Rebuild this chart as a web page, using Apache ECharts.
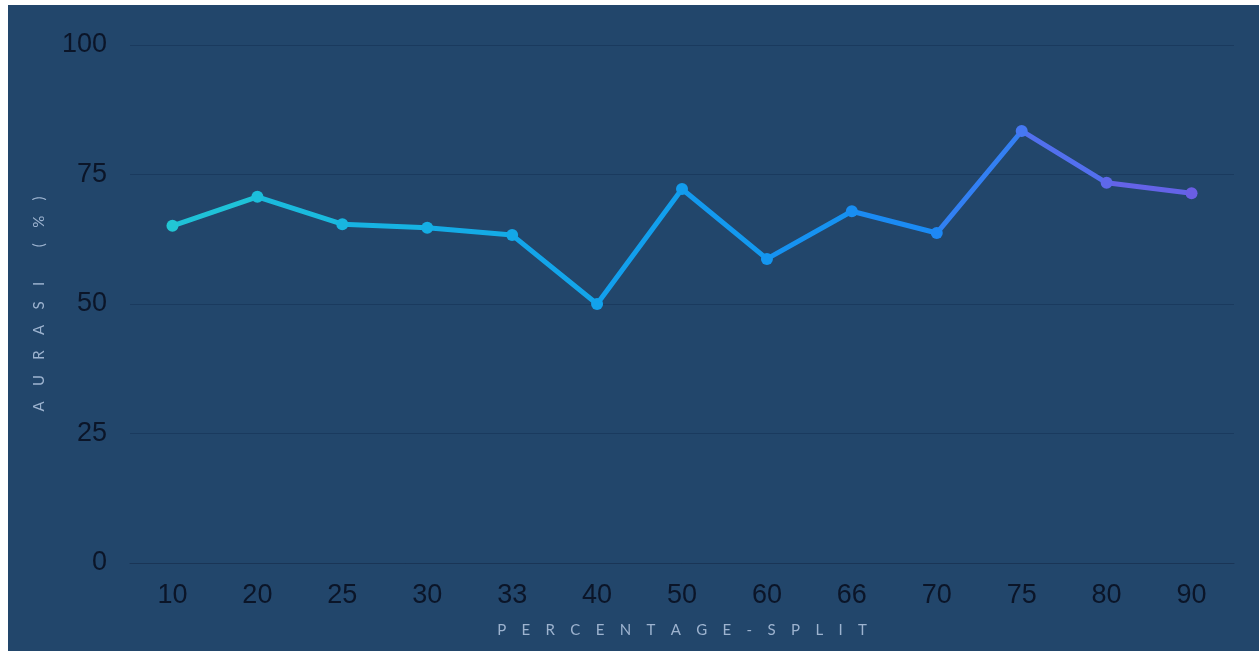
<!DOCTYPE html>
<html>
<head>
<meta charset="utf-8">
<script src="https://cdn.jsdelivr.net/npm/echarts@6/dist/echarts.min.js"></script>
<style>
	html, body { margin: 0; padding: 0; background: #ffffff; }
	#chart { position: absolute; left: 8px; top: 5px; width: 1251px; height: 646px; background: #22466b; }
</style>
</head>
<body>
<div id="chart"></div>
<script>
	// percentage split categories and accuracy values
	const splits = ['10', '20', '25', '30', '33', '40', '50', '60', '66', '70', '75', '80', '90'];
	const accuracy = [65.1, 70.7, 65.4, 64.7, 63.3, 50.0, 72.2, 58.7, 67.9, 63.7, 83.4, 73.4, 71.4];
	const yTicks = [0, 25, 50, 75, 100];

	// wide letter spacing for the axis titles
	const spread = (s, gap) => s.split('').join(gap);

	const chart = echarts.init(document.getElementById('chart'));
	chart.setOption({
		animation: false,
		grid: {
			left: 122,
			top: 40,
			width: 1104,
			height: 518
		},
		visualMap: {
			show: false,
			type: 'continuous',
			dimension: 0,
			min: 0,
			max: splits.length - 1,
			inRange: {
				color: ['#22c6d4', '#1cbedb', '#18b6e0', '#15aee4', '#13a8e8', '#12a2ec', '#129cee',
					'#1496f0', '#188ef2', '#1e88f4', '#4678f2', '#5e68ea', '#6a5ee4']
			}
		},
		xAxis: {
			type: 'category',
			data: splits,
			name: spread('PERCENTAGE-SPLIT', '    '),
			nameLocation: 'middle',
			nameGap: 60,
			nameTextStyle: {
				color: '#9db3cf',
				fontFamily: 'Lato',
				fontSize: 15
			},
			axisTick: { show: false },
			axisLine: {
				lineStyle: { color: '#1a3556', width: 1 }
			},
			axisLabel: {
				color: '#0b1528',
				fontFamily: 'Liberation Sans',
				fontSize: 27,
				margin: 19
			}
		},
		yAxis: {
			type: 'value',
			min: yTicks[0],
			max: yTicks[yTicks.length - 1],
			interval: 25,
			name: spread('AURASI', '    ') + '         ' + spread('(%)', '    '),
			nameLocation: 'middle',
			nameGap: 83,
			nameRotate: 90,
			nameTextStyle: {
				color: '#9db3cf',
				fontFamily: 'Lato',
				fontSize: 15
			},
			axisLine: { show: false },
			axisTick: { show: false },
			axisLabel: {
				color: '#0b1528',
				fontFamily: 'Liberation Sans',
				fontSize: 27,
				margin: 23
			},
			splitLine: {
				lineStyle: { color: '#1a3a5e', width: 1 }
			}
		},
		series: [{
			type: 'line',
			data: accuracy,
			symbol: 'circle',
			symbolSize: 12,
			lineStyle: { width: 5 }
		}]
	});
</script>
</body>
</html>
